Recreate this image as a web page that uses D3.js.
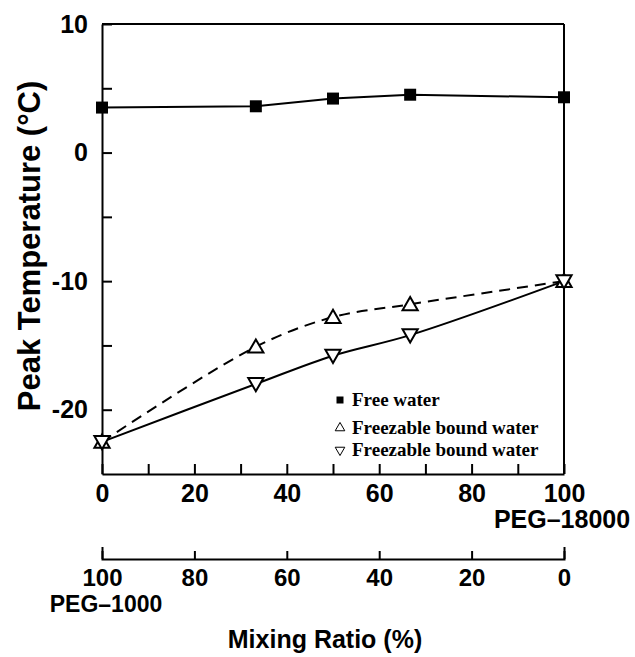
<!DOCTYPE html>
<html>
<head>
<meta charset="utf-8">
<script src="https://cdn.jsdelivr.net/npm/d3@7"></script>
<style>
    body { margin: 0; background: #fff; }
    .main_content { width: 635px; height: 657px; }
</style>
</head>
<body>
<div class="main_content"></div>
<script>
// Data
const ratios = [0, 33.3, 50, 66.7, 100];           // PEG-18000 share (%)
const freeWater = [3.5, 3.6, 4.2, 4.5, 4.3];
const boundUp = [-22.5, -15.1, -12.8, -11.8, -10.0];
const boundDown = [-22.5, -18.0, -15.8, -14.2, -10.0];

const yTicks = [10, 5, 0, -5, -10, -15, -20];
const xTicks = [0, 10, 20, 30, 40, 50, 60, 70, 80, 90, 100];
const x2Ticks = [100, 80, 60, 40, 20, 0];
const legendLabels = ['Free water', 'Freezable bound water', 'Freezable bound water'];

const width = 635, height = 657;
const sans = "'Liberation Sans', Arial, Helvetica, sans-serif";
const serif = "'Liberation Serif', 'Times New Roman', serif";

let svg = d3.select('.main_content')
    .append('svg')
    .attr('width', width)
    .attr('height', height);

// Scales
let xScale = d3.scaleLinear().domain([0, 100]).range([102, 564]);
let yScale = d3.scaleLinear().domain([-25, 10]).range([474, 24]);
let x2Scale = d3.scaleLinear().domain([100, 0]).range([102, 564]);

// Frame (top and right)
svg.append('line')
    .attr('x1', xScale(0)).attr('x2', xScale(100))
    .attr('y1', yScale(10)).attr('y2', yScale(10))
    .style('stroke', '#000').style('stroke-width', 2);
svg.append('line')
    .attr('x1', xScale(100)).attr('x2', xScale(100))
    .attr('y1', yScale(10)).attr('y2', yScale(-25))
    .style('stroke', '#000').style('stroke-width', 2);

// Left axis
let yAxis = d3.axisLeft(yScale)
    .tickValues(yTicks)
    .tickSizeInner(-10)
    .tickSizeOuter(0)
    .tickPadding(14)
    .tickFormat(d => d % 10 === 0 ? String(d) : '');

let yAxisG = svg.append('g')
    .attr('transform', 'translate(' + xScale(0) + ',0)')
    .call(yAxis);

// Bottom axis
let xAxis = d3.axisBottom(xScale)
    .tickValues(xTicks)
    .tickSizeInner(-10)
    .tickSizeOuter(0)
    .tickPadding(10)
    .tickFormat(d => d % 20 === 0 ? String(d) : '');

let xAxisG = svg.append('g')
    .attr('transform', 'translate(0,' + yScale(-25) + ')')
    .call(xAxis);

// Second (reversed) axis below
let x2Axis = d3.axisBottom(x2Scale)
    .tickValues(x2Ticks)
    .tickSizeInner(-8)
    .tickSizeOuter(-12)
    .tickPadding(10)
    .tickFormat(d => String(d));

let x2AxisG = svg.append('g')
    .attr('transform', 'translate(0,559)')
    .call(x2Axis);

[yAxisG, xAxisG, x2AxisG].forEach(g => {
    g.attr('font-family', sans)
        .attr('font-size', 25)
        .attr('font-weight', 'bold');
    g.selectAll('path, line').style('stroke', '#000').style('stroke-width', 2);
    g.selectAll('text').style('fill', '#000');
});
x2AxisG.attr('font-size', 24);

// Axis titles
svg.append('text')
    .attr('x', xScale(100) - 2)
    .attr('y', 528)
    .attr('text-anchor', 'middle')
    .style('font-family', sans).style('font-size', '25px').style('font-weight', 'bold')
    .text('PEG\u201318000');

svg.append('text')
    .attr('x', x2Scale(100) + 4)
    .attr('y', 612)
    .attr('text-anchor', 'middle')
    .style('font-family', sans).style('font-size', '23px').style('font-weight', 'bold')
    .text('PEG\u20131000');

svg.append('text')
    .attr('x', 325)
    .attr('y', 648)
    .attr('text-anchor', 'middle')
    .style('font-family', sans).style('font-size', '25px').style('font-weight', 'bold')
    .text('Mixing Ratio (%)');

svg.append('text')
    .attr('transform', 'translate(40,246) rotate(-90)')
    .attr('text-anchor', 'middle')
    .style('font-family', sans).style('font-size', '31px').style('font-weight', 'bold')
    .text('Peak Temperature (\u00B0C)');

// Lines
let series = [
    {values: freeWater, dash: null, curve: d3.curveLinear, symbol: d3.symbolSquare, size: 144, fill: '#000', rot: 0},
    {values: boundUp, dash: '11,7', curve: d3.curveCatmullRom, symbol: d3.symbolTriangle, size: 100, fill: '#fff', rot: 0},
    {values: boundDown, dash: null, curve: d3.curveCatmullRom, symbol: d3.symbolTriangle, size: 100, fill: '#fff', rot: 180}
];

series.forEach(s => {
    let pts = ratios.map((r, i) => [r, s.values[i]]);
    let line = d3.line()
        .x(d => xScale(d[0]))
        .y(d => yScale(d[1]))
        .curve(s.curve);
    svg.append('path')
        .datum(pts)
        .attr('d', line)
        .style('fill', 'none')
        .style('stroke', '#000')
        .style('stroke-width', 2)
        .style('stroke-dasharray', s.dash);
});

series.forEach(s => {
    let pts = ratios.map((r, i) => [r, s.values[i]]);
    let offset = s.symbol === d3.symbolTriangle ? (s.rot ? -1.5 : 1.5) : 0;
    svg.selectAll(null)
        .data(pts)
        .enter().append('path')
        .attr('d', d3.symbol().type(s.symbol).size(s.size))
        .attr('transform', d => 'translate(' + xScale(d[0]) + ',' + (yScale(d[1]) + offset) + ') rotate(' + s.rot + ')')
        .style('fill', s.fill)
        .style('stroke', '#000')
        .style('stroke-width', s.fill === '#000' ? 0 : 2);
});

// Legend
let legendY = [400, 428, 450];
let legend = svg.append('g').classed('legend', true);
legendLabels.forEach((label, i) => {
    let s = series[i];
    legend.append('path')
        .attr('d', d3.symbol().type(s.symbol).size(s.symbol === d3.symbolSquare ? 49 : 40))
        .attr('transform', 'translate(340,' + legendY[i] + ') rotate(' + s.rot + ')')
        .style('fill', s.fill)
        .style('stroke', '#000')
        .style('stroke-width', s.fill === '#000' ? 0 : 1);
    legend.append('text')
        .attr('x', 352)
        .attr('y', legendY[i] + 6)
        .style('font-family', serif)
        .style('font-size', '19px')
        .style('font-weight', 'bold')
        .text(label);
});
</script>
</body>
</html>
